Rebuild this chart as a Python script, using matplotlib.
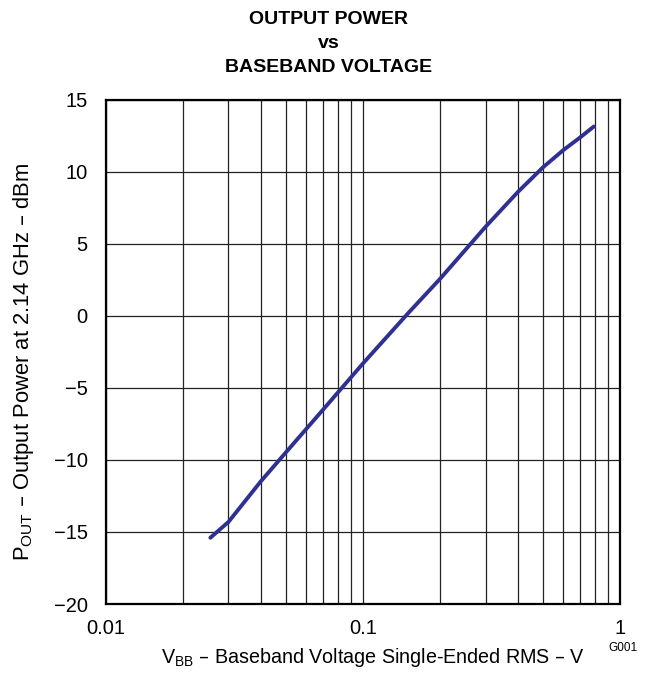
import matplotlib.pyplot as plt
from matplotlib.ticker import FixedLocator, NullFormatter

# Data
vbb = [0.0255, 0.03, 0.04, 0.05, 0.07, 0.1, 0.15, 0.2, 0.3, 0.4, 0.5, 0.6, 0.7, 0.79]
pout = [-15.4, -14.3, -11.5, -9.5, -6.5, -3.3, 0.2, 2.6, 6.2, 8.6, 10.3, 11.5, 12.4, 13.15]

plt.rcParams['font.family'] = ['Liberation Sans', 'DejaVu Sans']

fig = plt.figure(figsize=(6.57, 6.86), dpi=100)
ax = fig.add_axes([0.161, 0.1195, 0.783, 0.735])

ax.plot(vbb, pout, color='#2E3192', linewidth=2.8, solid_capstyle='round')

ax.set_xscale('log')
ax.set_xlim(0.01, 1)
ax.set_ylim(-20, 15)
ax.set_xticks([0.01, 0.1, 1])
ax.set_xticklabels(['0.01', '0.1', '1'])
ax.xaxis.set_minor_locator(FixedLocator([m * d for d in (0.01, 0.1) for m in range(2, 10)]))
ax.xaxis.set_minor_formatter(NullFormatter())
ax.set_yticks(range(-20, 16, 5))
ax.set_yticklabels([str(v).replace('-', '\u2212') for v in range(-20, 16, 5)])

ax.grid(True, which='both', color='#222222', linewidth=0.9)
ax.tick_params(which='both', length=0, labelsize=14.5)
ax.tick_params(axis='y', pad=13)
ax.tick_params(axis='x', pad=11)
for s in ax.spines.values():
    s.set_linewidth(1.6)

ax.set_xlabel(r'V$_{\mathregular{BB}}$ – Baseband Voltage Single-Ended RMS – V', fontsize=14.2, va='center')
ax.set_ylabel(r'P$_{\mathregular{OUT}}$ – Output Power at 2.14 GHz – dBm', fontsize=15.8, va='center')
ax.xaxis.set_label_coords(0.519, -0.107)
ax.yaxis.set_label_coords(-0.16, 0.48)

fig.text(0.5, 0.9646, 'OUTPUT POWER', ha='center', va='baseline', fontsize=14, fontweight='bold')
fig.text(0.5, 0.9305, 'vs', ha='center', va='baseline', fontsize=14, fontweight='bold')
fig.text(0.5, 0.8955, 'BASEBAND VOLTAGE', ha='center', va='baseline', fontsize=14, fontweight='bold')
fig.text(0.948, 0.056, 'G001', ha='center', va='center', fontsize=8.5)

fig.savefig('out.png', dpi=100)
